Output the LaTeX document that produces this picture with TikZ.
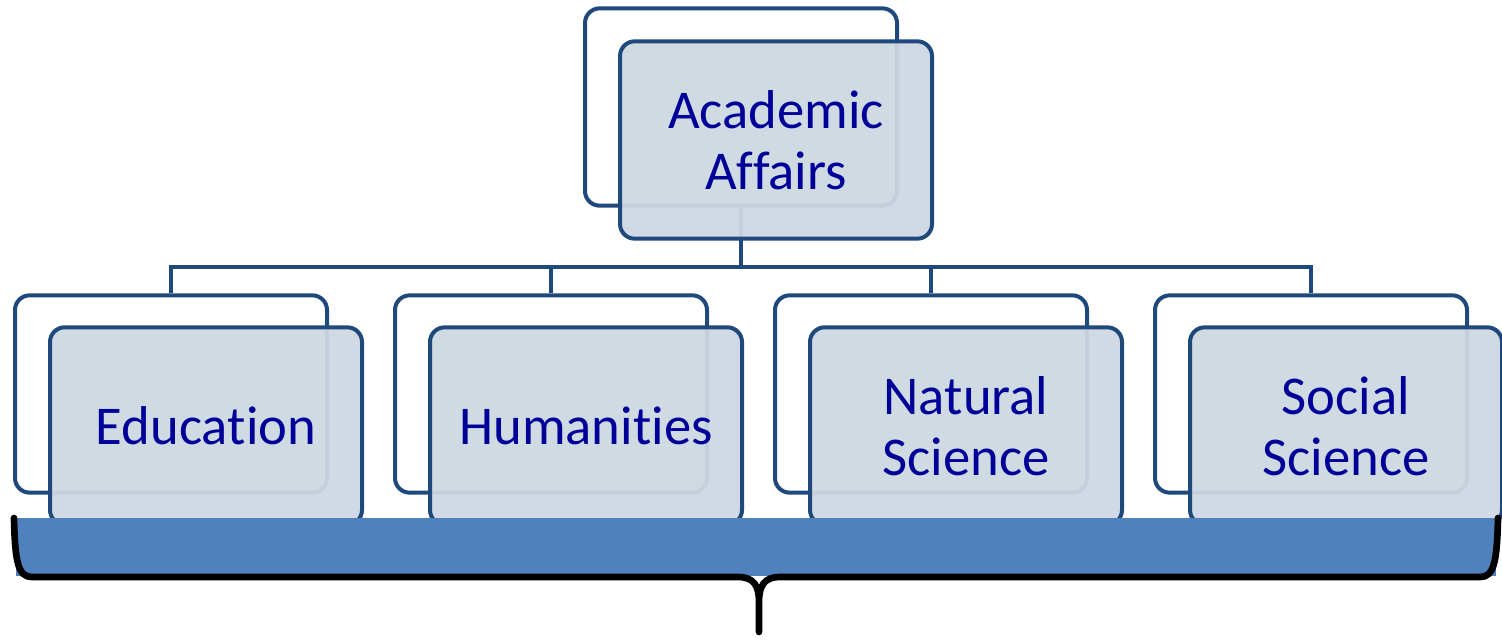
\documentclass[tikz,border=0pt]{standalone}
\usepackage{fontspec}
\setmainfont[Ligatures={NoCommon,NoRequired,NoContextual}]{Carlito}
\usepackage{tikz}
\usetikzlibrary{calc}
\definecolor{BoxLine}{HTML}{1F497D}
\definecolor{BoxFill}{HTML}{CED8E2}
\definecolor{BarFill}{HTML}{4F81BD}
\definecolor{LabelBlue}{HTML}{000099}

\begin{document}
\begin{tikzpicture}[
        x=0.75pt, y=-0.75pt,
        %Environment config
        line width=3pt,
        %Environment styles
        BackCfg/.style={
            draw=BoxLine,
            fill=white,
            rounded corners=11pt,
            minimum width=234pt,
            minimum height=148pt
        },
        FrontCfg/.style={
            BackCfg,
            fill=BoxFill,
            fill opacity=0.94,
            text opacity=1,
            text=LabelBlue,
            align=center,
            font=\fontsize{41}{46}\selectfont
        },
        LinkCfg/.style={draw=BoxLine}
    ]
    \useasboundingbox (0,0) rectangle (1502,639);

    \path
        (741,107) node[BackCfg](AAback){}
        (171,394) node[BackCfg](EDback){}
            ++ (380,0) node[BackCfg](HUback){}
            ++ (380,0) node[BackCfg](NSback){}
            ++ (380,0) node[BackCfg](SSback){};
    \coordinate (bus) at (0,267);

    \draw[LinkCfg]
        (AAback.south) -- (AAback.south |- bus)
        (EDback.north) |- (SSback.north |- bus) -- (SSback.north)
        (HUback.north) -- (HUback.north |- bus)
        (NSback.north) -- (NSback.north |- bus);

    \path
        (AAback) ++ (35,33) node[FrontCfg](AA){Academic\\Affairs}
        (EDback) ++ (35,32) node[FrontCfg](ED){Educa\kern0pt tion}
        (HUback) ++ (35,32) node[FrontCfg](HU){Humani\kern0pt ties}
        (NSback) ++ (35,32) node[FrontCfg](NS){Natural\\Science}
        (SSback) ++ (35,32) node[FrontCfg](SS){Social\\Science};

    %bar with brace below
    \fill[BarFill] (16,518) rectangle (1496,576);
    \draw[black, line width=5pt, line cap=round]
        (14,518) .. controls (15,562) and (18,577) .. (32,577) -- (738,577)
            .. controls (754,577) and (759,586) .. (759,602) -- (759,632)
        (1498,518) .. controls (1497,562) and (1494,577) .. (1480,577) -- (780,577)
            .. controls (764,577) and (759,586) .. (759,602);
\end{tikzpicture}
\end{document}
